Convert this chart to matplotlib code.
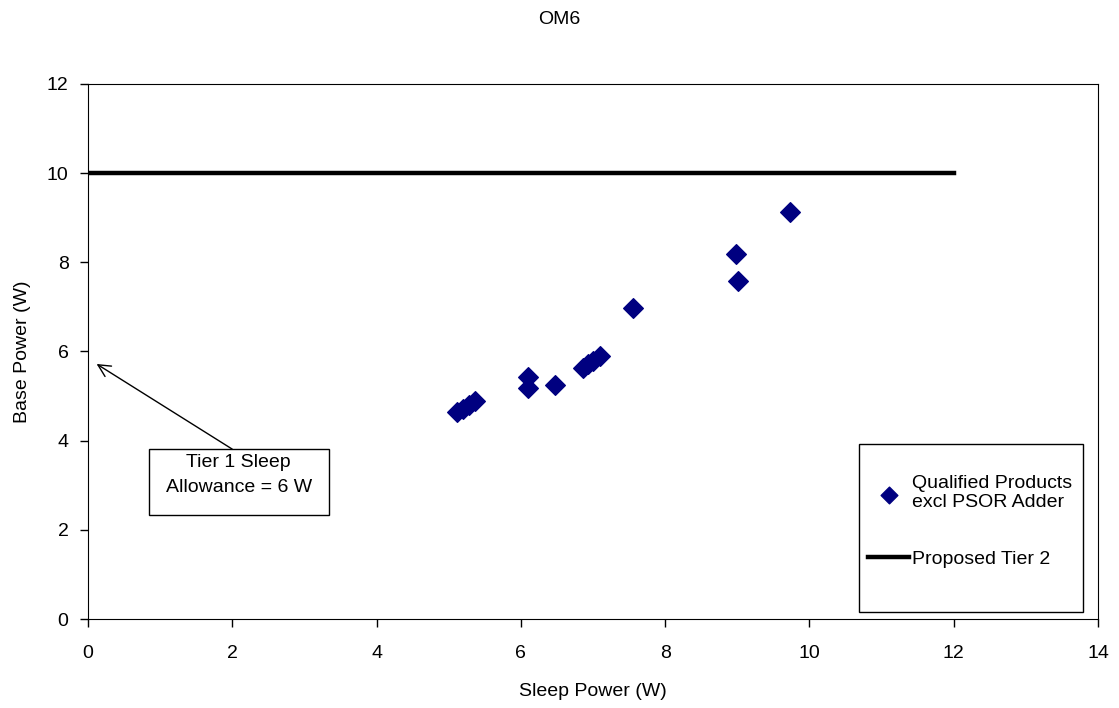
import matplotlib
matplotlib.use("Agg")
import matplotlib.pyplot as plt
from matplotlib.patches import Rectangle

plt.rcParams['font.family'] = ['Liberation Sans', 'DejaVu Sans']

sleep_power = [5.12, 5.20, 5.28, 5.36, 6.10, 6.10, 6.47, 6.86, 6.93, 7.00, 7.10, 7.56, 8.98, 9.01, 9.73]
base_power = [4.65, 4.72, 4.80, 4.88, 5.43, 5.18, 5.25, 5.64, 5.71, 5.78, 5.90, 6.97, 8.18, 7.58, 9.12]
tier2_x = [0, 12]
tier2_y = [10, 10]

FS = 14

fig = plt.figure(figsize=(11.19, 7.08), dpi=100)
ax = fig.add_axes([0.0786, 0.1257, 0.9026, 0.7557])

ax.scatter(sleep_power, base_power, marker='D', s=100, color='#000080', zorder=3,
           label='Qualified Products\nexcl PSOR Adder')
ax.plot(tier2_x, tier2_y, color='black', lw=3.2, label='Proposed Tier 2', zorder=2)

ax.set_xlim(0, 14)
ax.set_ylim(0, 12)
ax.set_xticks(range(0, 15, 2))
ax.set_yticks(range(0, 13, 2))
ax.tick_params(direction='out', length=6, labelsize=FS, width=1)
ax.tick_params(axis='x', pad=13)
ax.tick_params(axis='y', pad=8)
ax.set_xlabel('Sleep Power (W)', fontsize=FS, labelpad=15)
ax.set_ylabel('Base Power (W)', fontsize=FS, labelpad=11)
fig.suptitle('OM6', fontsize=FS, y=0.985)

# annotation: arrow and text box
ax.annotate('', xy=(0.12, 5.72), xytext=(2.0, 3.81),
            arrowprops=dict(arrowstyle='->', color='black', lw=1, mutation_scale=22,
                            shrinkA=0, shrinkB=0))
ax.add_patch(Rectangle((0.846, 2.333), 2.494, 1.48, fc='white', ec='black', lw=1, zorder=4))
ax.text(2.09, 3.23, 'Tier 1 Sleep\nAllowance = 6 W', fontsize=FS, ha='center', va='center',
        linespacing=1.55, zorder=5)

# legend frame
ax.add_patch(Rectangle((0.763, 0.013), 0.222, 0.314, transform=ax.transAxes,
                       fc='white', ec='black', lw=1, zorder=4))
leg = ax.legend(loc='upper left', bbox_to_anchor=(0.765, 0.284),
                fontsize=FS, frameon=False,
                handlelength=2.1, labelspacing=2.0, borderpad=0.4, handletextpad=0.15,
                markerscale=0.85, borderaxespad=0)
leg.set_zorder(5)

fig.savefig('out.png', dpi=100)
